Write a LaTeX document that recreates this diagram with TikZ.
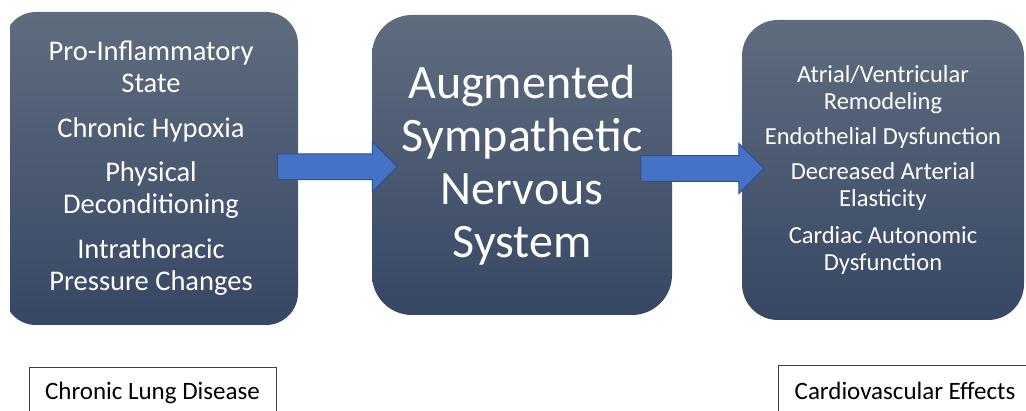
\documentclass[tikz,border=0pt]{standalone}
\usepackage{fontspec}
\setmainfont{Carlito}
\usetikzlibrary{shapes.arrows,calc}
\definecolor{boxtop}{RGB}{96,108,126}
\definecolor{boxbot}{RGB}{55,71,100}
\definecolor{arrowfill}{RGB}{68,114,196}
\definecolor{arrowline}{RGB}{47,82,143}
\begin{document}
\begin{tikzpicture}[x=1pt,y=-1pt,
  panel/.style={rounded corners=32pt, top color=boxtop, bottom color=boxbot,
    text=white, align=center, inner sep=0pt},
  flow/.style={single arrow, single arrow head extend=12pt, minimum width=50pt,
    inner xsep=0pt, inner ysep=12pt, fill=arrowfill, draw=arrowline, line width=1pt},
  caption/.style={draw=black!75, line width=1pt, minimum height=50pt,
    inner sep=0pt, font=\fontsize{25}{30}\selectfont}]
  \useasboundingbox (0,0) rectangle (1026,411);
  \clip (10,0) rectangle (1026,411);
  % the three panels
  \node[panel, minimum width=294pt, minimum height=313pt,
    font=\fontsize{28.5}{32}\selectfont] (lungbox) at (151,168.5)
    {Pro-Inflammatory\\State\\[13pt]Chronic Hypoxia\\[12pt]Physical\\Deconditioning\\[13pt]Intrathoracic\\Pressure Changes};
  \node[panel, rounded corners=40pt, minimum width=300pt, minimum height=300pt,
    font=\fontsize{48}{53}\selectfont] (snsbox) at (522,165)
    {Augmented\\Sympathetic\\Nervous\\System};
  \node[panel, rounded corners=36pt, minimum width=282pt, minimum height=300pt,
    font=\fontsize{24.5}{27}\selectfont] (cvbox) at (883,170)
    {Atrial/Ventricular\\Remodeling\\[8pt]Endothelial Dysfunction\\[8pt]Decreased Arterial\\Elasticity\\[10pt]Cardiac Autonomic\\Dysfunction};
  % block arrows between panels
  \node[flow, minimum height=120pt] (flowa) at ($(lungbox.east)!0.5!(snsbox.west)+(-4,0)$) {};
  \node[flow, minimum height=123pt] (flowb) at ($(snsbox.east)!0.5!(cvbox.west)+(-11,1)$) {};
  % captions below
  \node[caption, minimum width=247pt] (lunglabel) at (152.5,393) {Chronic Lung Disease};
  \node[caption, minimum width=254pt] (cvlabel) at (905,391) {Cardiovascular Effects};
\end{tikzpicture}
\end{document}
